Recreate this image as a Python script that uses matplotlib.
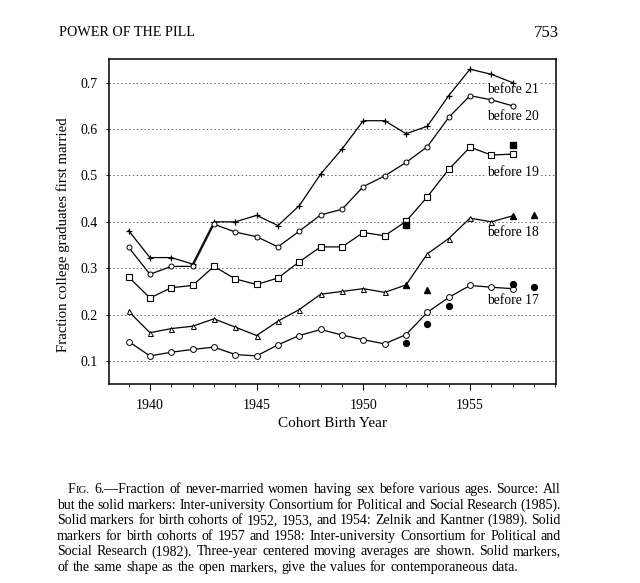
import matplotlib
matplotlib.use("Agg")
import matplotlib.pyplot as plt
from matplotlib.ticker import MultipleLocator, FixedLocator

plt.rcParams['font.family'] = ['Liberation Serif', 'DejaVu Serif']

# ---------------- data ----------------
years = list(range(1939, 1958))
before_21 = [0.381, 0.323, 0.323, 0.309, 0.400, 0.400, 0.414, 0.392, 0.435, 0.503,
             0.557, 0.618, 0.618, 0.590, 0.606, 0.672, 0.729, 0.718, 0.700]
before_20 = [0.345, 0.287, 0.304, 0.304, 0.395, 0.378, 0.368, 0.346, 0.380, 0.415,
             0.427, 0.476, 0.499, 0.528, 0.562, 0.625, 0.672, 0.663, 0.650]
before_19 = [0.281, 0.236, 0.258, 0.263, 0.304, 0.277, 0.265, 0.279, 0.314, 0.346,
             0.346, 0.377, 0.370, 0.401, 0.454, 0.513, 0.561, 0.544, 0.546]
before_18 = [0.207, 0.161, 0.170, 0.175, 0.191, 0.173, 0.155, 0.186, 0.211, 0.244,
             0.250, 0.256, 0.248, 0.264, 0.331, 0.364, 0.408, 0.400, 0.413]
before_17 = [0.142, 0.111, 0.119, 0.125, 0.130, 0.114, 0.111, 0.135, 0.155, 0.168,
             0.156, 0.146, 0.137, 0.157, 0.205, 0.237, 0.263, 0.259, 0.256]

solid_sq_years = [1952, 1957]
solid_sq_vals = [0.393, 0.566]
solid_tri_years = [1952, 1953, 1957, 1958]
solid_tri_vals = [0.264, 0.254, 0.413, 0.415]
solid_circ_years = [1952, 1953, 1954, 1957, 1958]
solid_circ_vals = [0.138, 0.179, 0.219, 0.266, 0.259]

series_labels = ["before 21", "before 20", "before 19", "before 18", "before 17"]
label_y = [0.686, 0.626, 0.507, 0.378, 0.231]

y_ticks = [0.1, 0.2, 0.3, 0.4, 0.5, 0.6, 0.7]
x_ticks = [1940, 1945, 1950, 1955]

header_left = "POWER OF THE PILL"
header_right = "753"
caption_lines = [
    "FIG. 6.\u2014Fraction of never-married women having sex before various ages. Source: All",
    "but the solid markers: Inter-university Consortium for Political and Social Research (1985).",
    "Solid markers for birth cohorts of 1952, 1953, and 1954: Zelnik and Kantner (1989). Solid",
    "markers for birth cohorts of 1957 and 1958: Inter-university Consortium for Political and",
    "Social Research (1982). Three-year centered moving averages are shown. Solid markers,",
    "of the same shape as the open markers, give the values for contemporaneous data.",
]

# ---------------- figure ----------------
W, H = 640, 583
fig = plt.figure(figsize=(W / 100, H / 100), dpi=100)
ax = fig.add_axes([109 / W, 1 - 384 / H, (556 - 109) / W, (384 - 59) / H])

lw = 0.9
ax.plot(years, before_21, color='black', lw=lw, marker='+', ms=5, mew=0.9, zorder=3)
ax.plot(years, before_20, color='black', lw=lw, marker='o', ms=3.6, mfc='white', mec='black', mew=0.7, zorder=3)
ax.plot(years, before_19, color='black', lw=lw, marker='s', ms=4.6, mfc='white', mec='black', mew=0.8, zorder=3)
ax.plot(years, before_18, color='black', lw=lw, marker='^', ms=3.6, mfc='white', mec='black', mew=0.7, zorder=3)
ax.plot(years, before_17, color='black', lw=lw, marker='o', ms=4.2, mfc='white', mec='black', mew=0.7, zorder=3)

ax.plot(solid_sq_years, solid_sq_vals, ls='none', marker='s', ms=4.2, color='black', zorder=4)
ax.plot(solid_tri_years, solid_tri_vals, ls='none', marker='^', ms=4.0, color='black', zorder=4)
ax.plot(solid_circ_years, solid_circ_vals, ls='none', marker='o', ms=4.2, color='black', zorder=4)

for lab, yv in zip(series_labels, label_y):
    ax.text(1955.8, yv, lab, fontsize=9.8, ha='left', va='center',
            bbox=dict(facecolor='white', edgecolor='none', pad=0.3), zorder=2)

ax.set_xlim(1938.08, 1959.03)
ax.set_ylim(0.0505, 0.751)
ax.xaxis.set_major_locator(FixedLocator(x_ticks))
ax.xaxis.set_minor_locator(MultipleLocator(1))
ax.set_yticks(y_ticks)
ax.set_yticklabels([f"{v:.1f}" for v in y_ticks])
ax.tick_params(axis='x', which='major', direction='out', length=4, width=0.8, pad=6.5, labelsize=10)
ax.tick_params(axis='x', which='minor', direction='out', length=2, width=0.6)
ax.tick_params(axis='y', which='major', direction='out', length=2, width=0.6, pad=6, labelsize=10)
ax.yaxis.grid(True, linestyle=(0, (1.5, 2.5)), color='#666666', lw=0.7, zorder=1)
ax.set_axisbelow(True)
for sp in ax.spines.values():
    sp.set_linewidth(1.1)
    sp.set_zorder(5)

ax.set_ylabel("Fraction college graduates first married", fontsize=10.7)
ax.yaxis.set_label_coords(-0.088, 0.46)
ax.set_xlabel("Cohort Birth Year", fontsize=11)
ax.xaxis.set_label_coords(0.499, -0.103)

# header
fig.text(59 / W, 1 - 32 / H, header_left, fontsize=10.2, ha='left', va='center')
fig.text(559 / W, 1 - 33 / H, header_right, fontsize=12, ha='right', va='center')

# justified caption
renderer = fig.canvas.get_renderer()
cap_size = 10.0


def measure(s, size):
    t = fig.text(0, 0, s, fontsize=size)
    w = t.get_window_extent(renderer).width
    t.remove()
    return w


space_w = measure("a b", cap_size) - measure("ab", cap_size)
x_left, x_right = 57, 561
line_y0, line_dy = 493, 15.6

for i, line in enumerate(caption_lines):
    words = line.split(" ")
    start = x_left + (11 if i == 0 else 0)
    widths = []
    for wd in words:
        if wd == "FIG.":
            widths.append(measure("F", cap_size) + measure("IG.", cap_size * 0.78))
        else:
            widths.append(measure(wd, cap_size))
    if i < len(caption_lines) - 1:
        gap = max((x_right - start - sum(widths)) / (len(words) - 1), 0.6 * space_w)
    else:
        gap = space_w * 1.15
    yfrac = 1 - (line_y0 + i * line_dy) / H
    x = start
    for wd, wv in zip(words, widths):
        if wd == "FIG.":
            fw = measure("F", cap_size)
            fig.text(x / W, yfrac, "F", fontsize=cap_size, ha='left', va='baseline')
            fig.text((x + fw) / W, yfrac, "IG.", fontsize=cap_size * 0.78, ha='left', va='baseline')
        else:
            fig.text(x / W, yfrac, wd, fontsize=cap_size, ha='left', va='baseline')
        x += wv + gap

fig.savefig("out.png", dpi=100)
